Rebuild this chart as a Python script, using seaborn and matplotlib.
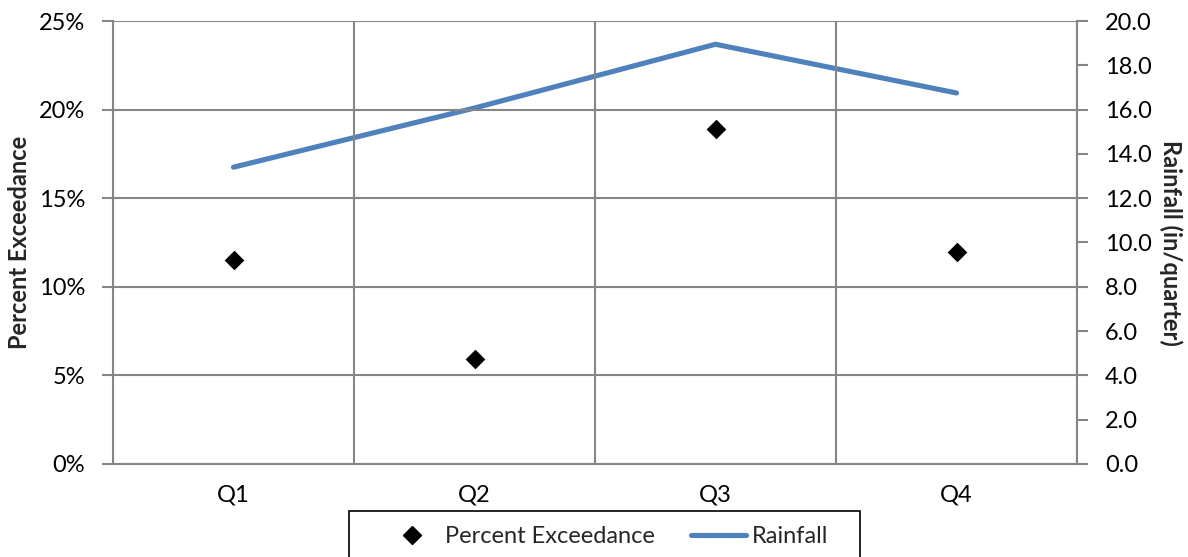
import numpy as np
import pandas as pd
import matplotlib
matplotlib.use("Agg")
import matplotlib.pyplot as plt
import matplotlib.ticker as mticker
from matplotlib.lines import Line2D
from matplotlib.patches import Rectangle
import seaborn as sns

# Quarterly data
quarters = ["Q1", "Q2", "Q3", "Q4"]
percent_exceedance = [11.5, 5.9, 18.9, 11.95]   # percent
rainfall = [13.4, 16.07, 18.95, 16.75]          # in/quarter

sns.set_theme(style="white")
plt.rcParams["font.family"] = ["Lato", "DejaVu Sans"]

W, H = 1188, 557
FS = 17
grid_col = "#868686"
line_col = "#4F81BD"

df = pd.DataFrame({"quarter": quarters,
                   "pct": percent_exceedance,
                   "rain": rainfall})
df["pos"] = np.arange(len(quarters))

fig = plt.figure(figsize=(W / 100, H / 100), dpi=100)
ax = fig.add_axes([113 / W, 1 - 464 / H, (1077 - 113) / W, (464 - 21) / H])
ax2 = ax.twinx()

# Rainfall line on the secondary axis
sns.lineplot(data=df, x="pos", y="rain", ax=ax2, color=line_col,
             linewidth=3.7, solid_capstyle="round", legend=False)
# Exceedance diamonds on the primary axis
sns.scatterplot(data=df, x="pos", y="pct", ax=ax, marker="D", s=100,
                color="black", edgecolor="black", linewidth=0, legend=False, zorder=5)

ax.set_zorder(ax2.get_zorder() + 1)
ax.patch.set_visible(False)

ax.set_xlim(-0.5, len(quarters) - 0.5)
ax.set_ylim(0, 25)
ax2.set_ylim(0, 20)

# Category boundaries carry the grid and tick marks; labels sit at centres
bounds = np.arange(-0.5, len(quarters), 1.0)
ax.set_xticks(bounds)
ax.set_xticklabels([""] * len(bounds))
ax.set_xticks(df["pos"], minor=True)
ax.set_xticklabels(quarters, minor=True)
ax.tick_params(axis="x", which="major", length=6, width=1.5, color=grid_col, direction="out")
ax.tick_params(axis="x", which="minor", length=0, pad=15, labelsize=FS, labelcolor="black")

ax.set_yticks(np.arange(0, 26, 5))
ax.yaxis.set_major_formatter(mticker.FuncFormatter(lambda v, p: f"{v:.0f}%"))
ax.tick_params(axis="y", length=8, width=1.5, color=grid_col, direction="out",
               pad=12, labelsize=FS, labelcolor="black")

ax2.set_yticks(np.arange(0, 20.1, 2))
ax2.yaxis.set_major_formatter(mticker.FuncFormatter(lambda v, p: f"{v:.1f}"))
ax2.tick_params(axis="y", length=8, width=1.5, color=grid_col, direction="out",
                pad=12, labelsize=FS, labelcolor="black")

ax.grid(True, axis="both", which="major", color=grid_col, linewidth=1.5)
ax2.grid(False)

for a in (ax, ax2):
    for s in a.spines.values():
        s.set_visible(False)
    a.set_xlabel("")
ax.spines["left"].set_visible(True)
ax.spines["bottom"].set_visible(True)
ax2.spines["right"].set_visible(True)
for s in (ax.spines["left"], ax.spines["bottom"], ax2.spines["right"]):
    s.set_color(grid_col)
    s.set_linewidth(1.5)

ax.set_ylabel("Percent Exceedance", fontsize=FS, fontweight="bold", labelpad=6)
ax2.set_ylabel("Rainfall (in/quarter)", fontsize=FS, fontweight="bold",
               rotation=-90, labelpad=22)

# Legend frame drawn separately so it can run off the bottom edge
fig.patches.append(Rectangle((349 / W, -0.05), (860 - 349) / W, (1 - 511 / H) + 0.05,
                             transform=fig.transFigure, facecolor="white",
                             edgecolor="black", linewidth=1.2, zorder=0))

handles = [
    Line2D([], [], marker="D", color="black", linestyle="none", markersize=9),
    Line2D([], [], color=line_col, linewidth=3.7),
]
leg = fig.legend(handles, ["Percent Exceedance", "Rainfall"], loc="upper left",
                 bbox_to_anchor=(384 / W, 1 - 526 / H), ncol=2, fontsize=FS,
                 frameon=False, borderpad=0, borderaxespad=0, columnspacing=1.5,
                 handlelength=2.35, handletextpad=0.25)

fig.savefig("out.png", dpi=100)
